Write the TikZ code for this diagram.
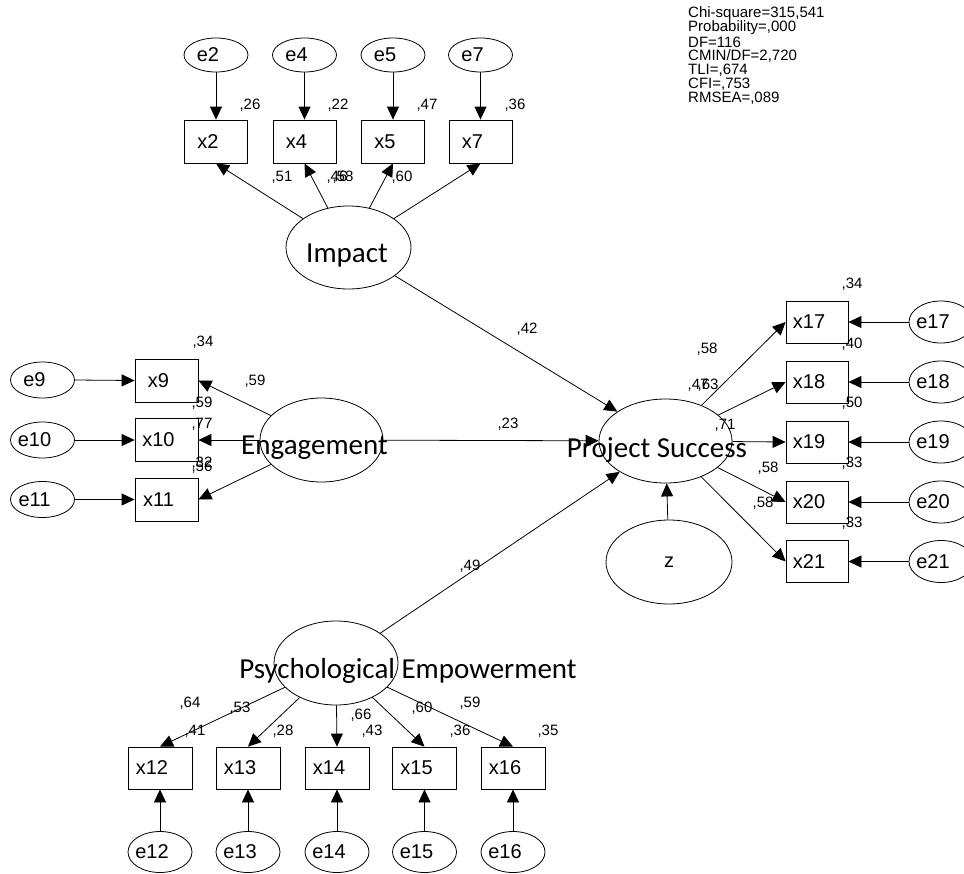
\documentclass[tikz,border=0pt]{standalone}
\usepackage{fontspec}
\setmainfont{Liberation Sans}
\newfontfamily\carlito{Carlito}
\usetikzlibrary{arrows.meta,shapes.geometric}
\begin{document}
\begin{tikzpicture}[x=1pt,y=-1pt,
  obs/.style={draw, rectangle, line width=0.8pt, minimum width=63pt, minimum height=43pt, inner sep=0pt,
    font=\fontsize{20}{24}\selectfont, execute at begin node={\hspace*{-16pt}}},
  err/.style={draw, ellipse, line width=0.8pt, minimum width=64pt, minimum height=36pt, inner sep=0pt,
    font=\fontsize{20}{24}\selectfont, execute at begin node={\hspace*{-16pt}}},
  lat/.style={draw, ellipse, line width=0.8pt, inner sep=0pt},
  lattext/.style={anchor=base, inner sep=0pt, font=\fontsize{29}{34}\selectfont\carlito},
  num/.style={inner sep=0pt, font=\fontsize{15}{18}\selectfont},
  fit/.style={anchor=west, inner sep=0pt, font=\fontsize{15}{16}\selectfont},
  arr/.style={line width=0.8pt, -{Triangle[length=13pt,width=12pt]}}]
\useasboundingbox (0,0) rectangle (964,873);

% ---- fit statistics
\node[fit] (f1) at (688,14) {Chi-square=315,541};
\node[fit] (f2) at (688,28) {Probability=,000};
\node[fit] (f3) at (688,42) {DF=116};
\node[fit] (f4) at (688,56) {CMIN/DF=2,720};
\node[fit] (f5) at (688,70) {TLI=,674};
\node[fit] (f6) at (688,84) {CFI=,753};
\node[fit] (f7) at (688,98) {RMSEA=,089};

% ---- Impact block
\node[err, minimum height=34pt] (e2) at (216,55) {e2};
\node[err, minimum height=34pt] (e4) at (304.5,55) {e4};
\node[err, minimum height=34pt] (e5) at (393,55) {e5};
\node[err, minimum height=34pt] (e7) at (480.5,55) {e7};
\node[obs] (x2) at (216,141.5) {x2};
\node[obs] (x4) at (304.5,141.5) {x4};
\node[obs] (x5) at (393,141.5) {x5};
\node[obs] (x7) at (480.5,141.5) {x7};
\node[lat, minimum width=125pt, minimum height=83pt] (imp) at (348.5,247.5) {};
\node[lattext] (impt) at (347,262) {Impact};

% ---- Engagement block
\node[err] (e9) at (42.5,380) {e9};
\node[err] (e10) at (42.5,440) {e10};
\node[err] (e11) at (42.5,499.5) {e11};
\node[obs] (x9) at (166.5,380.5) {x9};
\node[obs] (x10) at (166.5,440) {x10};
\node[obs] (x11) at (166.5,499.5) {x11};
\node[lat, minimum width=123pt, minimum height=84pt] (eng) at (321.5,440) {};
\node[lattext] (engt) at (314.5,454) {Engagement};

% ---- Project Success block
\node[lat, minimum width=133pt, minimum height=84pt] (ps) at (665.5,441) {};
\node[lattext] (pst) at (657,457) {Project Success};
\node[lat, minimum width=126pt, minimum height=84pt, font=\fontsize{20}{24}\selectfont] (z) at (669,562) {z};
\foreach \i/\y in {17/322,18/382,19/442,20/502,21/561.5}{
  \node[obs, minimum width=62pt, minimum height=42pt] (x\i) at (817,\y) {x\i};
  \node[err, minimum height=42pt] (e\i) at (941,\y) {e\i};
}

% ---- Psychological Empowerment block
\node[lat, minimum width=124pt, minimum height=84pt] (pe) at (336,663) {};
\node[lattext] (pet) at (408,678) {Psychological Empowerment};
\foreach \i/\x in {12/160,13/248,14/337,15/424.5,16/513}{
  \node[obs, minimum width=64pt, minimum height=42pt] (x\i) at (\x,768) {x\i};
  \node[err, minimum height=41pt] (e\i) at (\x,852) {e\i};
}

% ---- connectors
\foreach \i in {2,4,5,7}{
  \draw[arr] (e\i.south) -- (x\i.north);
  \draw[arr] (imp) -- (x\i.south);
}
\foreach \i in {9,10,11}{
  \draw[arr] (e\i.east) -- (x\i.west);
  \draw[arr] (eng) -- (x\i.east);
}
\foreach \i in {17,18,19,20,21}{
  \draw[arr] (e\i.west) -- (x\i.east);
  \draw[arr] (ps) -- (x\i.west);
}
\foreach \i in {12,13,14,15,16}{
  \draw[arr] (e\i.north) -- (x\i.south);
  \draw[arr] (pe) -- (x\i.north);
}
\draw[arr] (imp) -- (ps);
\draw[arr] (eng) -- (ps);
\draw[arr] (pe) -- (ps);
\draw[arr] (z) -- (ps);

% ---- estimates
\node[num] (n1) at (250,105) {,26};
\node[num] (n2) at (338,105) {,22};
\node[num] (n3) at (427,105) {,47};
\node[num] (n4) at (515,105) {,36};
\node[num] (n5) at (282,177) {,51};
\node[num] (n6) at (337,177) {,46};
\node[num] (n7) at (343,177) {,58};
\node[num] (n8) at (402,177) {,60};
\node[num] (n9) at (203,342) {,34};
\node[num] (n10) at (255,381) {,59};
\node[num] (n11) at (202,403) {,59};
\node[num] (n12) at (202,424) {,77};
\node[num] (n13) at (202,463) {,32};
\node[num] (n14) at (202,467) {,56};
\node[num] (n15) at (527,329) {,42};
\node[num] (n16) at (508,424) {,23};
\node[num] (n17) at (470,566) {,49};
\node[num] (n18) at (852,284) {,34};
\node[num] (n19) at (852,344) {,40};
\node[num] (n20) at (852,403) {,50};
\node[num] (n21) at (852,463) {,33};
\node[num] (n22) at (852,523) {,33};
\node[num] (n23) at (707,349) {,58};
\node[num] (n24) at (698,385) {,47};
\node[num] (n25) at (708,385) {,63};
\node[num] (n26) at (725,425) {,71};
\node[num] (n27) at (768,468) {,58};
\node[num] (n28) at (763,503) {,58};
\node[num] (n29) at (190,703) {,64};
\node[num] (n30) at (240,708) {,53};
\node[num] (n31) at (195,731) {,41};
\node[num] (n32) at (283,731) {,28};
\node[num] (n33) at (361,715) {,66};
\node[num] (n34) at (372,731) {,43};
\node[num] (n35) at (422,708) {,60};
\node[num] (n36) at (470,703) {,59};
\node[num] (n37) at (460,731) {,36};
\node[num] (n38) at (548,731) {,35};
\end{tikzpicture}
\end{document}
